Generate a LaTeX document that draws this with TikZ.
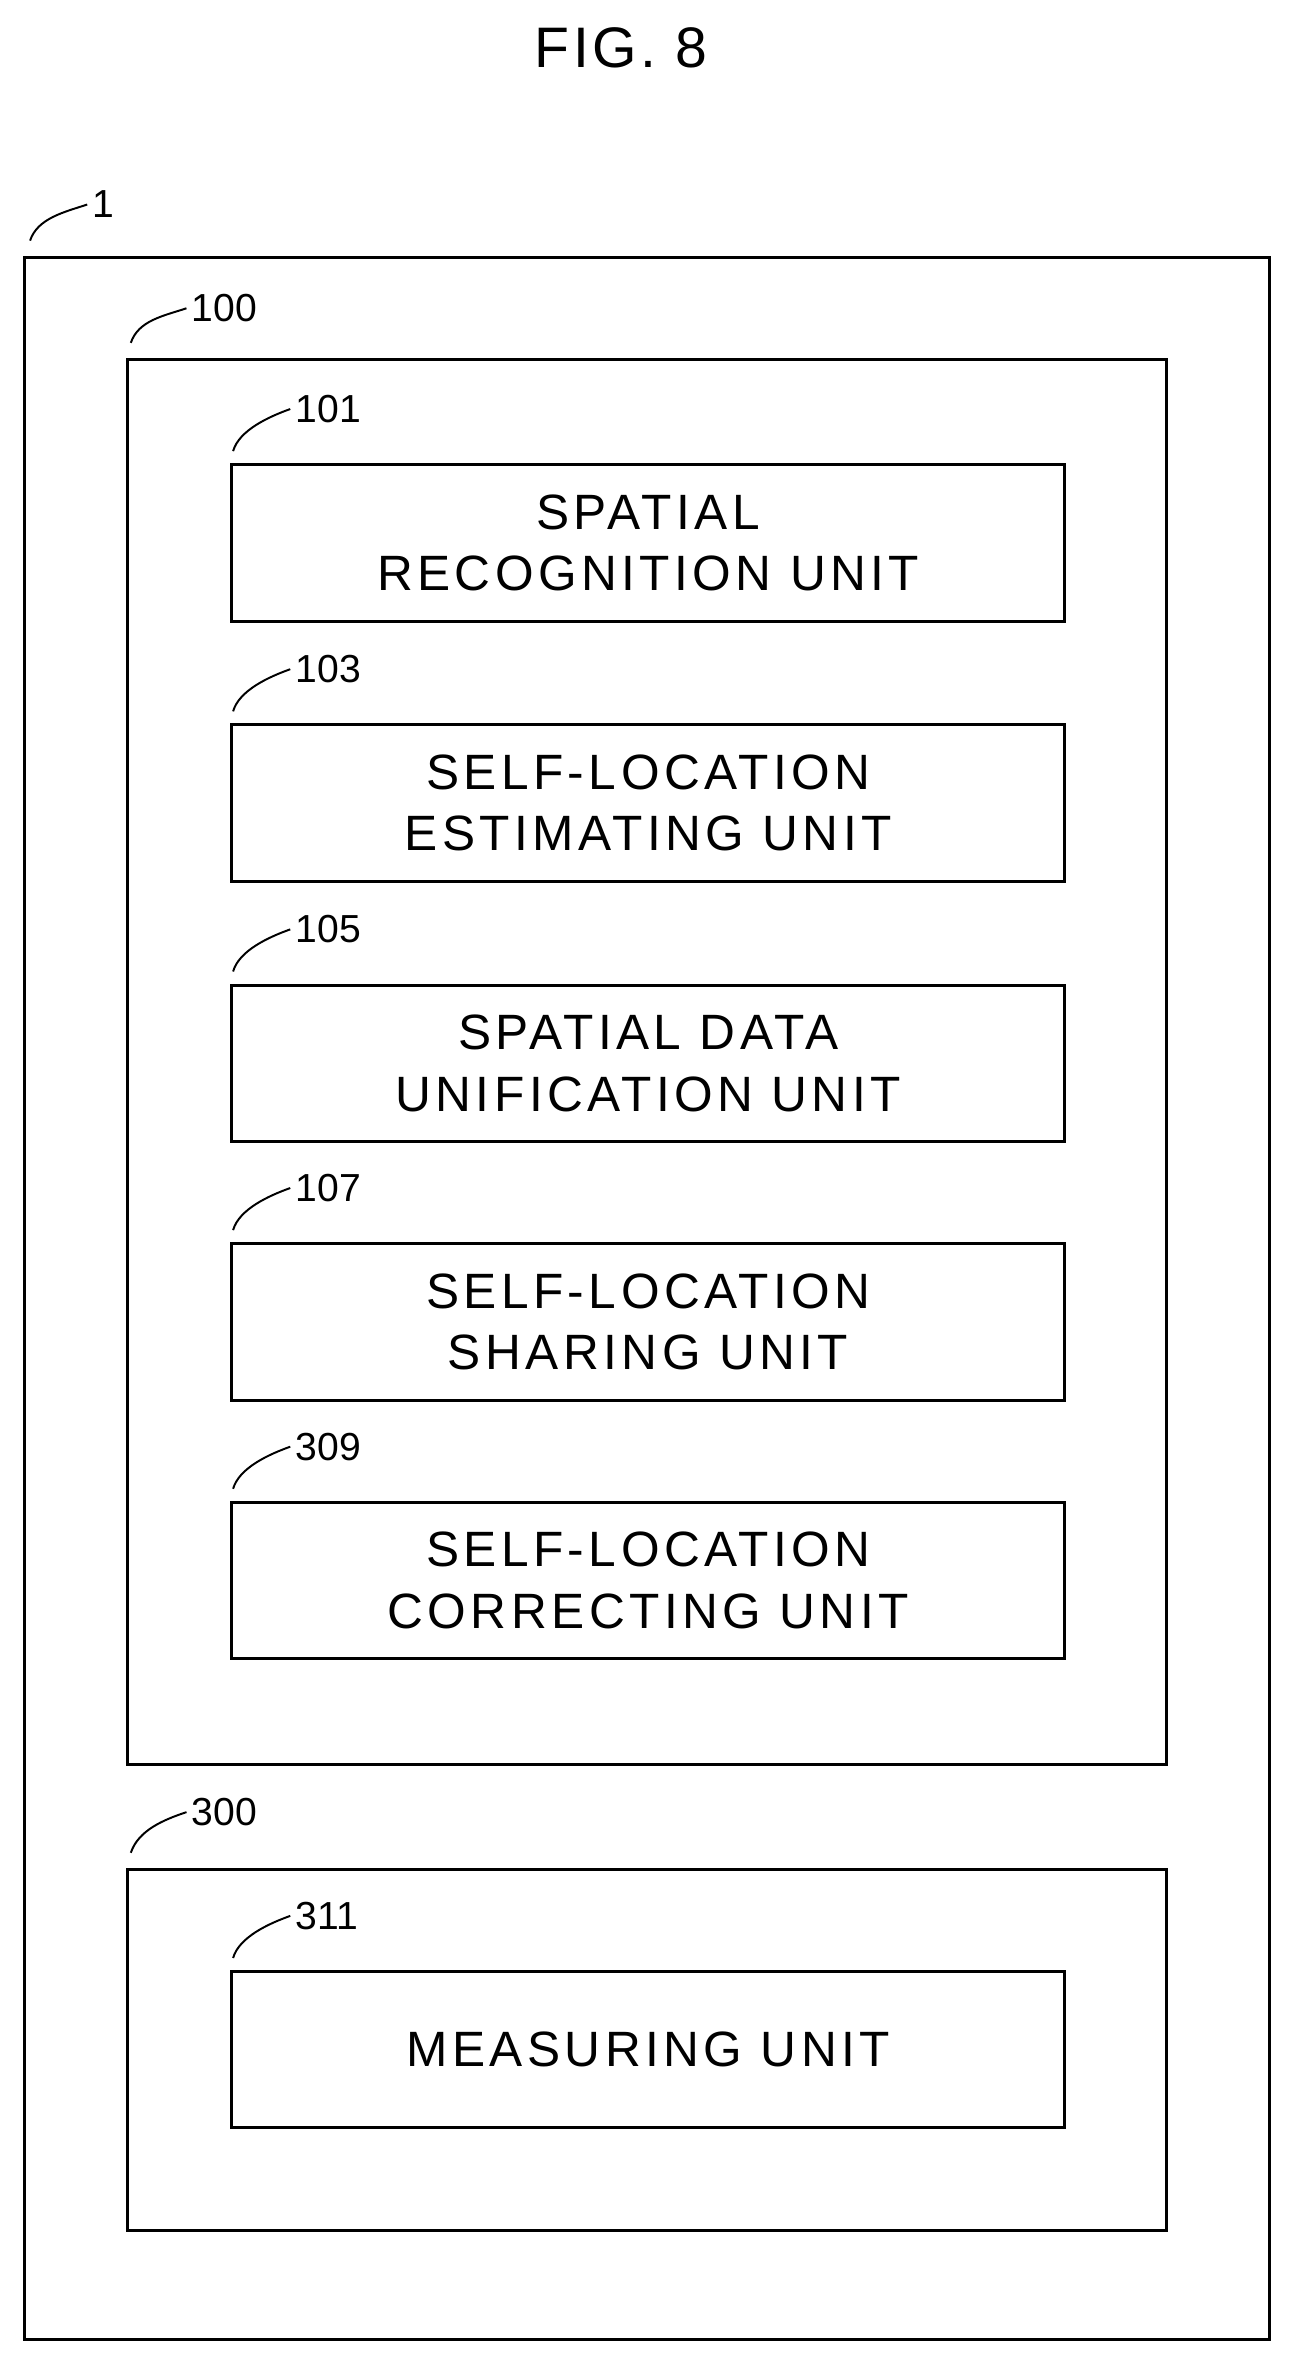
\documentclass[tikz,border=0pt]{standalone}
\usepackage{fontspec}
\setmainfont{Liberation Sans}
\begin{document}
\begin{tikzpicture}[x=1pt,y=-1pt,
  box/.style={draw,line width=2pt},
  unit/.style={box,minimum width=554pt,minimum height=104pt,anchor=north west,inner sep=0pt,align=center,font=\fontsize{33}{41}\selectfont\addfontfeature{LetterSpace=9}},
  lbl/.style={font=\fontsize{26}{30}\selectfont,anchor=west},
  lead/.style={line width=1.3pt}]
\useasboundingbox (0,0) rectangle (860,1568);
\node[font=\fontsize{38}{44}\selectfont\addfontfeature{LetterSpace=6}] (title) at (413,32) {FIG. 8};
\node[box,anchor=north west,minimum width=828pt,minimum height=1385pt,inner sep=0pt] (b1) at (15,170) {};
\node[lbl] (l1) at (58,136) {1};
\draw[lead] (b1.north west)++(5,-10) .. controls +(5,-15) and +(-15,5) .. (l1.west);
\node[box,anchor=north west,minimum width=691pt,minimum height=934pt,inner sep=0pt] (b100) at (84,238) {};
\node[lbl] (l100) at (124,205) {100};
\draw[lead] (b100.north west)++(3,-10) .. controls +(5,-15) and +(-15,5) .. (l100.west);
\node[box,anchor=north west,minimum width=691pt,minimum height=240pt,inner sep=0pt] (b300) at (84,1242) {};
\node[lbl] (l300) at (124,1205) {300};
\draw[lead] (b300.north west)++(3,-10) .. controls +(5,-15) and +(-15,5) .. (l300.west);
\foreach \n/\y/\t in {101/308/{SPATIAL\\RECOGNITION UNIT},103/481/{SELF-LOCATION\\ESTIMATING UNIT},105/654/{SPATIAL DATA\\UNIFICATION UNIT},107/826/{SELF-LOCATION\\SHARING UNIT},309/998/{SELF-LOCATION\\CORRECTING UNIT},311/1310/{MEASURING UNIT}}{
  \node[unit] (u\n) at (153,\y) {\t};
  \node[lbl] (l\n) at (193,\y-36) {\n};
  \draw[lead] (u\n.north west)++(2,-8) .. controls +(4,-14) and +(-14,5) .. (l\n.west);
}
\end{tikzpicture}
\end{document}
